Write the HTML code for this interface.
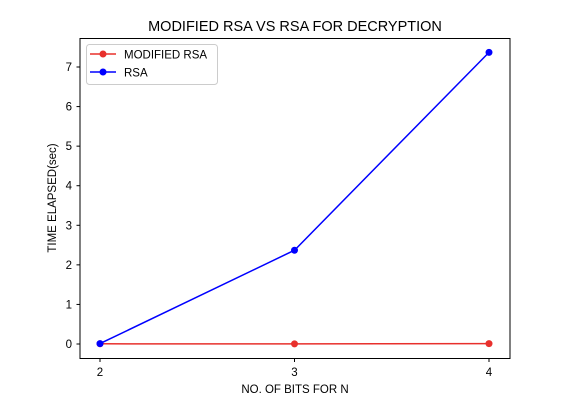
<!DOCTYPE html>
<html><head><meta charset="utf-8"><style>
body{margin:0;background:#fff}
svg{display:block;font-family:"Liberation Sans",sans-serif}
</style></head><body>
<svg id="chart" width="580" height="404">
<text x="295" y="31" font-size="14.5" text-anchor="middle">MODIFIED RSA VS RSA FOR DECRYPTION</text>
<g id="axes"></g>
<g id="series"></g>
<rect x="80" y="38.5" width="430" height="320" fill="none" stroke="#000" stroke-width="1"/>
<text x="295" y="393" font-size="11.5" text-anchor="middle">NO. OF BITS FOR N</text>
<text transform="translate(56,198) rotate(-90)" font-size="11.5" text-anchor="middle">TIME ELAPSED(sec)</text>
<g>
<rect x="86.5" y="44.5" width="131" height="40" rx="3" fill="#fff" stroke="#ccc"/>
<line x1="90" y1="54" x2="116" y2="54" stroke="#e8302c" stroke-width="1.5"/>
<circle cx="103" cy="54" r="3.5" fill="#e8302c"/>
<text x="124" y="58.5" font-size="11.5">MODIFIED RSA</text>
<line x1="90" y1="72" x2="116" y2="72" stroke="#0000ff" stroke-width="1.5"/>
<circle cx="103" cy="72" r="3.5" fill="#0000ff"/>
<text x="124" y="76.5" font-size="11.5">RSA</text>
</g>
</svg>
<script>
const categories = [2, 3, 4];
const rsaValues = [0.01, 2.37, 7.37];
const modifiedValues = [0.005, 0.003, 0.01];
const yTicks = [0, 1, 2, 3, 4, 5, 6, 7];
const NS = "http://www.w3.org/2000/svg";
function xs(v){return 100 + (v - 2) * 194.5;}
function ys(v){return 344 - v * 39.57;}
function mk(tag, attrs, parent){const e=document.createElementNS(NS,tag);for(const k in attrs)e.setAttribute(k,attrs[k]);parent.appendChild(e);return e;}
const axes=document.getElementById('axes'), series=document.getElementById('series');
categories.forEach(c=>{
  const l=mk('line',{x1:xs(c),x2:xs(c),y1:358.5,y2:362,stroke:'#000'},axes);
  
  
  const t=mk('text',{x:xs(c),y:376,'font-size':11.5,'text-anchor':'middle'},axes);
  t.textContent=c;
  
  
});
yTicks.forEach(v=>{
  const l=mk('line',{x1:76.5,x2:80,y1:ys(v),y2:ys(v),stroke:'#000'},axes);
  
  
  const t=mk('text',{x:72,y:ys(v)+4,'font-size':11.5,'text-anchor':'end'},axes);
  t.textContent=v;
  
  
});
function drawSeries(vals,color,name){
  const pts=vals.map((v,i)=>xs(categories[i])+','+ys(v)).join(' ');
  const pl=mk('polyline',{points:pts,fill:'none',stroke:color,'stroke-width':1.5},series);
  
  
  vals.forEach((v,i)=>{
    const c=mk('circle',{cx:xs(categories[i]),cy:ys(v),r:3.5,fill:color},series);
    
    
  });
}
drawSeries(modifiedValues,'#e8302c','modified-rsa');
drawSeries(rsaValues,'#0000ff','rsa');
</script>
</body></html>
